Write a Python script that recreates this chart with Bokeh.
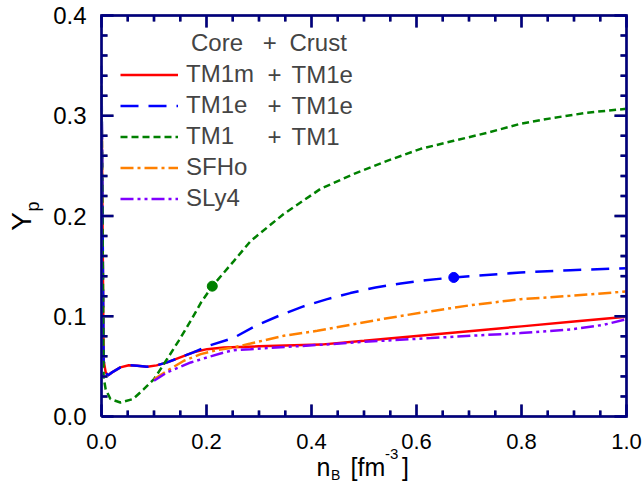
import math
from bokeh.plotting import figure
from bokeh.models import Range1d, Label, Legend, LegendItem
from bokeh.core.properties import value
from bokeh.embed import file_html
from bokeh.resources import INLINE

# ---------------- data ----------------
tm1m_n = [0.0, 0.004, 0.008, 0.012, 0.02, 0.036, 0.052, 0.068, 0.087, 0.105,
          0.125, 0.15, 0.175, 0.201, 0.233, 0.3, 0.417, 0.5, 0.6, 0.7, 0.8, 0.9, 1.0]
tm1m_y = [0.33, 0.056, 0.044, 0.041, 0.044, 0.049, 0.0512, 0.0506, 0.0496, 0.051,
          0.054, 0.059, 0.064, 0.0672, 0.0688, 0.070, 0.0717, 0.0755, 0.0803, 0.0851, 0.0899, 0.0947, 0.0995]

tm1e_n = [0.0, 0.004, 0.008, 0.012, 0.02, 0.036, 0.052, 0.068, 0.087, 0.105,
          0.125, 0.15, 0.175, 0.201, 0.252, 0.29, 0.338, 0.382, 0.43, 0.474, 0.522, 0.57, 0.617,
          0.671, 0.798, 0.893, 1.0]
tm1e_y = [0.35, 0.056, 0.044, 0.041, 0.044, 0.049, 0.0512, 0.0506, 0.0496, 0.051,
          0.054, 0.059, 0.064, 0.0700, 0.0785, 0.0895, 0.1005, 0.1094, 0.1171, 0.1231, 0.1287, 0.1327, 0.136,
          0.1387, 0.1437, 0.146, 0.148]

tm1_n = [0.0, 0.004, 0.008, 0.017, 0.036, 0.06, 0.08, 0.1, 0.125, 0.147, 0.17, 0.19,
         0.211, 0.252, 0.284, 0.347, 0.417, 0.481, 0.544, 0.608, 0.671, 0.735, 0.798, 0.862, 0.925, 1.0]
tm1_y = [0.33, 0.039, 0.027, 0.0174, 0.014, 0.0174, 0.027, 0.0373, 0.0573, 0.0755, 0.0955, 0.114,
         0.130, 0.155, 0.175, 0.202, 0.227, 0.242, 0.255, 0.267, 0.275, 0.283, 0.292, 0.298, 0.303, 0.307]

sfho_n = [0.1, 0.125, 0.157, 0.189, 0.22, 0.252, 0.284, 0.347, 0.411, 0.474, 0.538, 0.608, 0.703, 0.798, 0.893, 1.0]
sfho_y = [0.037, 0.0456, 0.0556, 0.0622, 0.0662, 0.069, 0.0728, 0.0805, 0.0855, 0.0915, 0.0975, 0.1035,
          0.111, 0.117, 0.1204, 0.1247]

sly4_n = [0.1, 0.125, 0.17, 0.201, 0.233, 0.252, 0.284, 0.417, 0.5, 0.627, 0.703, 0.798, 0.893, 0.957, 1.0]
sly4_y = [0.0356, 0.044, 0.0539, 0.0589, 0.0638, 0.0662, 0.0672, 0.0715, 0.0745, 0.0782, 0.0805, 0.0832,
          0.0868, 0.0915, 0.097]

# marked points
dot_n = [0.211, 0.671]
dot_y = [0.130, 0.1387]
dot_colors = ["#008000", "#0000ff"]

core_names = ["TM1m", "TM1e", "TM1", "SFHo", "SLy4"]
crust_names = ["TM1e", "TM1e", "TM1", None, None]

x_major = [0.0, 0.2, 0.4, 0.6, 0.8, 1.0]
x_labels = ["0.0", "0.2", "0.4", "0.6", "0.8", "1.0"]
y_major = [0.0, 0.1, 0.2, 0.3, 0.4]
y_labels = ["0.0", "0.1", "0.2", "0.3", "0.4"]
x_minor = [round(i * 0.05, 4) for i in range(21) if i % 4]
y_minor = [round(i * 0.02, 4) for i in range(21) if i % 5]

X0, X1, Y0, Y1 = 0.0, 1.0, 0.0, 0.4
FONT = "Liberation Sans"

# ---------------- geometry: plotting box inside a full-canvas frame ----------------
W, H = 644, 482
BL, BR, BT, BB = 101, 626, 15, 416      # box edges in pixels
sx = (X1 - X0) / (BR - BL)
sy = (Y1 - Y0) / (BB - BT)


def px2x(px):
    return X0 + (px - BL) * sx


def px2y(py):
    return Y0 + (BB - py) * sy


p = figure(width=W, height=H, output_backend="svg", toolbar_location=None,
           x_range=Range1d(px2x(0), px2x(W)), y_range=Range1d(px2y(H), px2y(0)),
           x_axis_type=None, y_axis_type=None, min_border=0)
p.min_border_left = p.min_border_right = p.min_border_top = p.min_border_bottom = 0
p.outline_line_color = None
p.background_fill_color = None
p.border_fill_color = None

# ---------------- curves ----------------
r1 = p.line(tm1m_n, tm1m_y, line_color="#ff0000", line_width=2.5)
r2 = p.line(tm1e_n, tm1e_y, line_color="#0000ff", line_width=2.5, line_dash="18 10")
r3 = p.line(tm1_n, tm1_y, line_color="#008000", line_width=2.5, line_dash="7 4")
r4 = p.line(sfho_n, sfho_y, line_color="#ff8000", line_width=2.5, line_dash="13 4 3 4")
r5 = p.line(sly4_n, sly4_y, line_color="#8000ff", line_width=2.5, line_dash="13 4 3 4 3 4")
p.scatter(dot_n, dot_y, size=10, color=dot_colors)

# ---------------- box and inward ticks (a grey pass, then a dark pass on top) ----------------
LW = 2.5
for ink in ["#808080", "#000080"]:
    p.line(x=[X0, X1, X1, X0, X0], y=[Y0, Y0, Y1, Y1, Y0], line_color=ink, line_width=LW,
           line_join="miter")
    for ticks, ln in [(x_major, 12), (x_minor, 6)]:
        p.ray(x=ticks, y=[Y0] * len(ticks), length=ln, length_units="screen",
              angle=math.pi / 2, line_color=ink, line_width=LW)
        p.ray(x=ticks, y=[Y1] * len(ticks), length=ln, length_units="screen",
              angle=-math.pi / 2, line_color=ink, line_width=LW)
    for ticks, ln in [(y_major, 12), (y_minor, 6)]:
        p.ray(x=[X0] * len(ticks), y=ticks, length=ln, length_units="screen",
              angle=0, line_color=ink, line_width=LW)
        p.ray(x=[X1] * len(ticks), y=ticks, length=ln, length_units="screen",
              angle=math.pi, line_color=ink, line_width=LW)

# ---------------- tick labels ----------------
p.text(x=x_major, y=[Y0] * len(x_major), text=x_labels, y_offset=25,
       text_align="center", text_baseline="middle",
       text_font=value(FONT), text_font_size="22px", text_color="black")
p.text(x=[X0] * len(y_major), y=y_major, text=y_labels, x_offset=-15,
       text_align="right", text_baseline="middle",
       text_font=value(FONT), text_font_size="24px", text_color="black")

# ---------------- axis titles ----------------
xc = (X0 + X1) / 2
yc = (Y0 + Y1) / 2
p.text(x=[X0], y=[yc], text=["Y"], x_offset=-80, y_offset=5.5, angle=math.pi / 2,
       text_align="center", text_baseline="middle",
       text_font=value(FONT), text_font_size="28px", text_color="black")
p.text(x=[X0], y=[yc], text=["p"], x_offset=-69, y_offset=-9.5, angle=math.pi / 2,
       text_align="center", text_baseline="middle",
       text_font=value(FONT), text_font_size="18px", text_color="black")
for txt, dx, dy, fs in [("n", -47.5, 50.5, "25px"), ("B", -33, 58.5, "14px"),
                        ("[fm", -13.5, 50.5, "25px"), ("-3", 21, 37, "15px"),
                        ("]", 38, 50.5, "25px")]:
    p.text(x=[xc], y=[Y0], text=[txt], x_offset=dx, y_offset=dy,
           text_align="left", text_baseline="middle",
           text_font=value(FONT), text_font_size=fs, text_color="black")

# ---------------- legend ----------------
row0 = 74
pitch = 31
items = [LegendItem(label=n, renderers=[r]) for n, r in zip(core_names, [r1, r2, r3, r4, r5])]
leg = Legend(items=items, location=(120, H - (row0 - pitch / 2 + 5 * pitch)), padding=0, margin=0,
             spacing=0, glyph_width=58, glyph_height=pitch, label_height=pitch, label_standoff=8,
             label_text_font=FONT, label_text_font_size="24px",
             border_line_color=None, background_fill_alpha=0)
p.add_layout(leg)

for txt, xpx in [("Core", 190.5), ("+", 262.3), ("Crust", 289)]:
    p.add_layout(Label(x=px2x(xpx), y=px2y(41.7), text=txt, text_font=FONT, text_font_size="24px",
                       text_align="left", text_baseline="middle"))
for i, c in enumerate(crust_names):
    if c is None:
        continue
    yy = px2y(row0 + i * pitch)
    p.add_layout(Label(x=px2x(267), y=yy, text="+", text_font=FONT, text_font_size="24px",
                       text_align="left", text_baseline="middle"))
    p.add_layout(Label(x=px2x(291), y=yy, text=c, text_font=FONT, text_font_size="24px",
                       text_align="left", text_baseline="middle"))

open("out.html", "w").write(file_html(p, INLINE))
